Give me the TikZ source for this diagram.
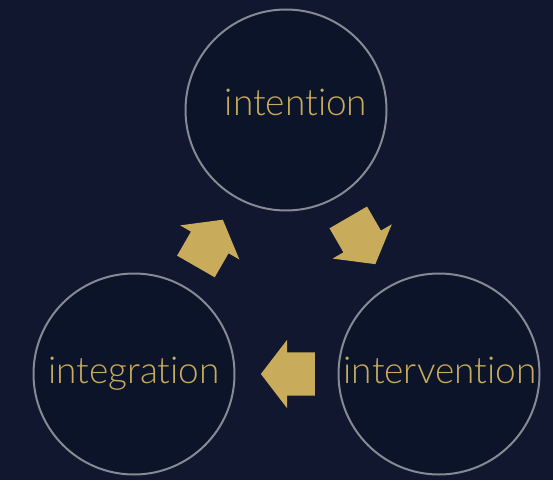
\documentclass[tikz,border=0pt]{standalone}
\usepackage{fontspec}
\setmainfont{Lato Light}[Ligatures=NoCommon]
\usetikzlibrary{shapes.arrows}
\definecolor{navy}{HTML}{10172F}
\definecolor{disc}{HTML}{0C1429}
\definecolor{rim}{HTML}{858A94}
\definecolor{gold}{HTML}{C8AB5B}

\begin{document}
\begin{tikzpicture}[x=1pt, y=1pt,
  stage/.style={circle, draw=rim, line width=2pt, fill=disc, minimum size=201pt, inner sep=0pt},
  word/.style={anchor=base, text=gold, inner sep=0pt, font=\fontsize{37}{44}\selectfont},
  cyclearrow/.style={single arrow, fill=gold, inner xsep=0pt, inner ysep=21.5pt,
    single arrow head extend=12.5pt, single arrow tip angle=105, minimum height=54pt,
    sloped, allow upside down, pos=.22, anchor=tail}]
\fill[navy] (0,0) rectangle (553,480);
\useasboundingbox (0,0) rectangle (553,480);

% the three stages
\node [stage] (intention) at (286,370) {};
\node [stage] (intervention) at (439,106) {};
\node [stage] (integration) at (134,106) {};

\node [word] at ([shift={(10,-6)}]intention) {intention};
\node [word] at ([shift={(1,-9)}]intervention) {intervention};
\node [word] at ([shift={(0,-9)}]integration) {integration};

% cycle arrows
\path (intention) -- node [cyclearrow] (toIntervention) {} (intervention);
\path (intervention) -- node [cyclearrow] (toIntegration) {} (integration);
\path (integration) -- node [cyclearrow] (toIntention) {} (intention);
\end{tikzpicture}
\end{document}
